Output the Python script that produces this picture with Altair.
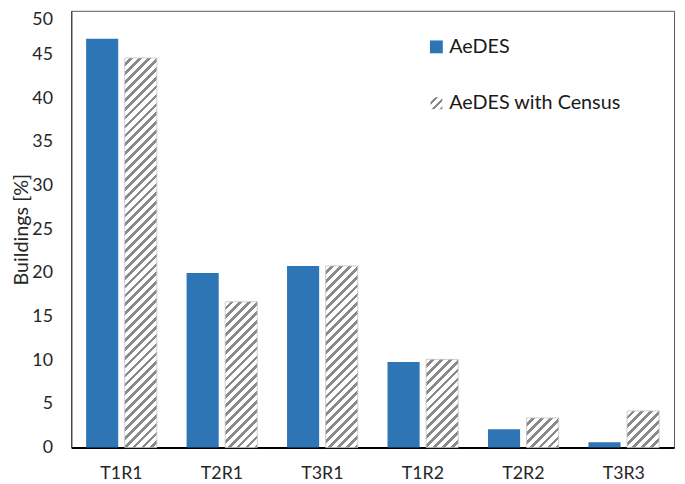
import altair as alt
import pandas as pd

categories = ["T1R1", "T2R1", "T3R1", "T1R2", "T2R2", "T3R3"]
series = ["AeDES", "AeDES with Census"]
aedes = [46.8, 20.0, 20.8, 9.8, 2.1, 0.6]
census = [44.6, 16.7, 20.8, 10.1, 3.4, 4.2]
y_ticks = [0, 5, 10, 15, 20, 25, 30, 35, 40, 45, 50]

df = pd.DataFrame({
    "category": categories * 2,
    "series": [series[0]] * len(categories) + [series[1]] * len(categories),
    "value": aedes + census,
})

W, H = 610, 442
YMAX = 50
PAD_X, PAD_OFF = 0.296, 0.168
BLUE = "#2E75B6"
GREY = "#8a8a8a"
FONT = "Lato"

step = W / len(categories)
group_bw = step * (1 - PAD_X)
bar_w = group_bw / (2 - PAD_OFF) * (1 - PAD_OFF)


def hatch(w, h, period=9.0, frac=0.42):
    s = (w + h) / (w * w + h * h)
    L = w + h
    stops = []
    pos = 0.0
    while pos < L:
        a = pos / L
        b = min((pos + period * (1 - frac)) / L, 1.0)
        c = min((pos + period) / L, 1.0)
        stops += [
            {"offset": a, "color": "#ffffff"},
            {"offset": b, "color": "#ffffff"},
            {"offset": b, "color": GREY},
            {"offset": c, "color": GREY},
        ]
        pos += period
    return {"gradient": "linear", "x1": 0, "y1": 0, "x2": w * s, "y2": h * s, "stops": stops}


x_enc = alt.X(
    "category:N",
    sort=categories,
    scale=alt.Scale(domain=categories, paddingInner=PAD_X, paddingOuter=PAD_X / 2),
    axis=alt.Axis(title=None, labelAngle=0, ticks=False, tickSize=0, domainColor="#000000",
                  domainWidth=2, labelPadding=17, labelFontSize=18, labelColor="#262626",
                  labelFont=FONT),
)
xo_enc = alt.XOffset("series:N", scale=alt.Scale(domain=series, paddingInner=PAD_OFF, paddingOuter=0))
y_enc = alt.Y(
    "value:Q",
    scale=alt.Scale(domain=[0, YMAX], nice=False),
    axis=alt.Axis(values=y_ticks, grid=False, ticks=False, tickSize=0, title="Buildings [%]",
                  titleFontSize=20, titleFontWeight="normal", titleFont=FONT, titleColor="#262626",
                  titlePadding=0, labelPadding=19, labelFontSize=18, labelFont=FONT,
                  labelColor="#262626", domainColor="#404040", domainWidth=1.2,
                  labelBaseline={"condition": {"test": "datum.value == 50", "value": "top"},
                                 "value": "middle"}),
)

base = alt.Chart(df)
layers = [
    base.transform_filter(alt.datum.series == series[0]).mark_bar(color=BLUE).encode(
        x=x_enc, xOffset=xo_enc, y=y_enc)
]
for cat, v in zip(categories, census):
    layers.append(
        base.transform_filter((alt.datum.series == series[1]) & (alt.datum.category == cat))
        .mark_bar(fill=hatch(bar_w, v * H / YMAX), stroke="#c4c4c4", strokeWidth=0.8)
        .encode(x=x_enc, xOffset=xo_enc, y=y_enc)
    )

# manual legend
leg_df = pd.DataFrame({"label": series})
lx, ly1, ly2 = 369.5, 36.5, 93.5
layers.append(
    alt.Chart(leg_df).transform_filter(alt.datum.label == series[0]).mark_rect(color=BLUE)
    .encode(x=alt.value(lx - 6.5), x2=alt.value(lx + 6.5), y=alt.value(ly1 - 6.5), y2=alt.value(ly1 + 6.5))
)
layers.append(
    alt.Chart(leg_df).transform_filter(alt.datum.label == series[1]).mark_rect(fill=hatch(12, 12, period=8))
    .encode(x=alt.value(lx - 6), x2=alt.value(lx + 6), y=alt.value(ly2 - 6), y2=alt.value(ly2 + 6))
)
layers.append(
    alt.Chart(leg_df).transform_filter(alt.datum.label == series[0])
    .mark_text(align="left", baseline="middle", fontSize=20, font=FONT, color="#1a1a1a")
    .encode(x=alt.value(lx + 13), y=alt.value(ly1), text="label:N")
)
layers.append(
    alt.Chart(leg_df).transform_filter(alt.datum.label == series[1])
    .mark_text(align="left", baseline="middle", fontSize=20, font=FONT, color="#1a1a1a")
    .encode(x=alt.value(lx + 13), y=alt.value(ly2), text="label:N")
)

chart = alt.layer(*layers).properties(
    width=W, height=H,
    autosize=alt.AutoSizeParams(type="none"),
    padding={"left": 64, "top": 0, "right": 3, "bottom": 34},
).configure_view(stroke="#595959", strokeWidth=1)

chart.save("out.html", embed_options={"renderer": "svg", "actions": False})
